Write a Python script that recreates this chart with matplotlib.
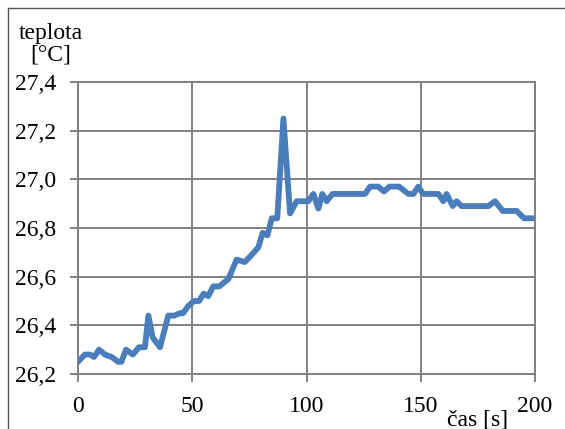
import matplotlib.pyplot as plt
from matplotlib.lines import Line2D
from matplotlib.ticker import FuncFormatter

cas = [0, 3, 5.2, 7, 9.2, 11.8, 14.7, 17.6, 19, 21, 24, 26.7, 29.3, 30.8, 32.7,
       35.9, 39.5, 42.1, 44.6, 46, 48.3, 50.8, 53, 55, 57, 59.2, 61.8, 65.8,
       69.4, 73, 76, 78.9, 80.8, 82.9, 84.8, 87.2, 89.9, 92.8, 95.7, 100.8,
       103, 105.2, 106.9, 108.8, 111.4, 125.6, 127.8, 131.4, 133.9, 136.3,
       140.5, 144.6, 146.8, 148.9, 151.1, 157.7, 159.9, 161.3, 164, 165.7,
       167.9, 179.6, 182.5, 185.9, 192, 195.2, 199.6]
teplota = [26.25, 26.28, 26.28, 26.27, 26.30, 26.28, 26.27, 26.25, 26.25, 26.30,
           26.28, 26.31, 26.31, 26.44, 26.35, 26.31, 26.44, 26.44, 26.45, 26.45,
           26.48, 26.50, 26.50, 26.53, 26.52, 26.56, 26.56, 26.59, 26.67, 26.66,
           26.69, 26.72, 26.78, 26.77, 26.84, 26.84, 27.25, 26.86, 26.91, 26.91,
           26.94, 26.88, 26.94, 26.91, 26.94, 26.94, 26.97, 26.97, 26.95, 26.97,
           26.97, 26.94, 26.94, 26.97, 26.94, 26.94, 26.91, 26.94, 26.89, 26.91,
           26.89, 26.89, 26.91, 26.87, 26.87, 26.84, 26.84]

plt.rcParams['font.family'] = ['Liberation Serif', 'DejaVu Serif']
fs = 17

fig = plt.figure(figsize=(5.65, 4.29), dpi=100)
ax = fig.add_axes([78/565, 1-374/429, 457/565, 292/429])

ax.plot(cas, teplota, color='#4a7ebb', lw=4.2, solid_joinstyle='round')
ax.set_xlim(0, 200)
ax.set_ylim(26.2, 27.4)
ax.set_xticks([0, 50, 100, 150, 200])
ax.set_yticks([26.2, 26.4, 26.6, 26.8, 27.0, 27.2, 27.4])
ax.yaxis.set_major_formatter(FuncFormatter(lambda v, p: f"{v:.1f}".replace('.', ',')))
ax.grid(True, color='#808080', lw=1.4)
ax.set_axisbelow(True)
for s in ax.spines.values():
    s.set_color('#808080')
    s.set_linewidth(1.4)
ax.tick_params(direction='out', length=6, width=1.4, color='#808080',
               labelsize=fs, pad=10)

fig.text(51/565, 1-44/429, "teplota\n[°C]", ha='center', va='center',
         fontsize=fs, linespacing=1.0)
fig.text(478/565, 1-420/429, "čas [s]", ha='center', va='center', fontsize=fs)

# figure border (top and left only visible)
fig.add_artist(Line2D([8/565, 8/565], [0, 1-8/429], color='#555555', lw=1))
fig.add_artist(Line2D([8/565, 1], [1-8/429, 1-8/429], color='#555555', lw=1))

fig.savefig("out.png", dpi=100)
